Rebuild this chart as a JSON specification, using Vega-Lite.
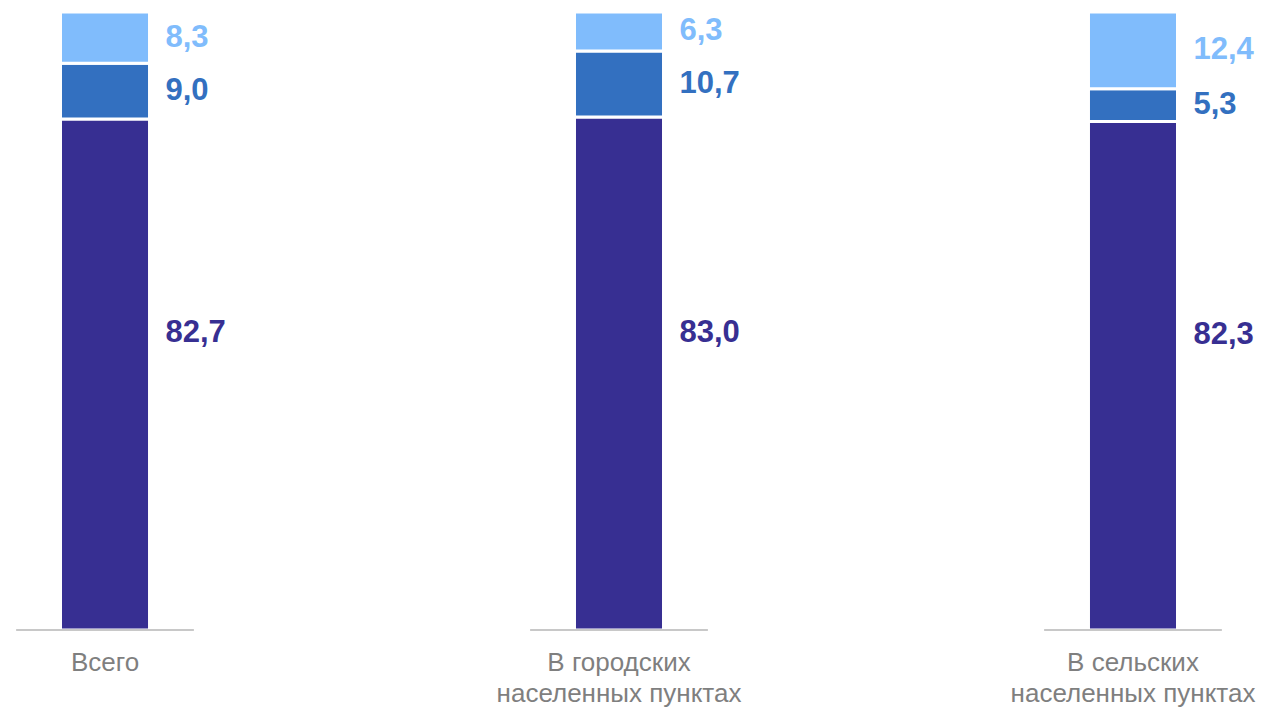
{
  "$schema": "https://vega.github.io/schema/vega-lite/v6.json",
  "width": 1238,
  "height": 618,
  "autosize": {"type": "none"},
  "padding": {"left": 0, "top": 12, "right": 28, "bottom": 77},
  "background": "white",
  "config": {
    "view": {"stroke": null},
    "font": "Liberation Sans"
  },
  "data": {
    "values": [
      {"cat": "Всего", "series": "s1", "order": 1, "v": 82.7},
      {"cat": "Всего", "series": "s2", "order": 2, "v": 9.0},
      {"cat": "Всего", "series": "s3", "order": 3, "v": 8.3},
      {"cat": "В городских|населенных пунктах", "series": "s1", "order": 1, "v": 83.0},
      {"cat": "В городских|населенных пунктах", "series": "s2", "order": 2, "v": 10.7},
      {"cat": "В городских|населенных пунктах", "series": "s3", "order": 3, "v": 6.3},
      {"cat": "В сельских|населенных пунктах", "series": "s1", "order": 1, "v": 82.3},
      {"cat": "В сельских|населенных пунктах", "series": "s2", "order": 2, "v": 5.3},
      {"cat": "В сельских|населенных пунктах", "series": "s3", "order": 3, "v": 12.4}
    ]
  },
  "transform": [
    {"stack": "v", "groupby": ["cat"], "sort": [{"field": "order"}], "as": ["v0", "v1"]},
    {"calculate": "(datum.v0 + datum.v1) / 2", "as": "mid"},
    {"calculate": "replace(format(datum.v, '.1f'), '.', ',')", "as": "lbl"}
  ],
  "encoding": {
    "x": {
      "field": "cat",
      "type": "nominal",
      "sort": null,
      "scale": {"paddingInner": 0.8268, "paddingOuter": 0.1177},
      "axis": {
        "title": null,
        "domain": false,
        "ticks": false,
        "labelAngle": 0,
        "labelFont": "Liberation Sans",
        "labelFontSize": 26,
        "labelColor": "#7F7F7F",
        "labelLineHeight": 31,
        "labelPadding": 19,
        "labelLimit": 0,
        "labelOverlap": false,
        "labelExpr": "split(datum.label, '|')"
      }
    }
  },
  "layer": [
    {
      "mark": {"type": "bar", "stroke": "white", "strokeWidth": 3},
      "encoding": {
        "y": {"field": "v1", "type": "quantitative", "scale": {"domain": [0, 100]}, "axis": null},
        "y2": {"field": "v0"},
        "color": {
          "field": "series",
          "type": "nominal",
          "scale": {"domain": ["s1", "s2", "s3"], "range": ["#372F92", "#3370C0", "#80BCFC"]},
          "legend": null
        }
      }
    },
    {
      "mark": {"type": "tick", "orient": "horizontal", "size": 177, "thickness": 2, "color": "#C8C8C8", "opacity": 1},
      "encoding": {
        "y": {"datum": 0, "type": "quantitative"}
      }
    },
    {
      "transform": [{"filter": "datum.series != 's1'"}],
      "mark": {"type": "text", "align": "left", "baseline": "middle", "dx": 16, "fontSize": 31, "fontWeight": "bold", "font": "Liberation Sans"},
      "encoding": {
        "x": {"field": "cat", "type": "nominal", "sort": null, "bandPosition": 1},
        "y": {"field": "mid", "type": "quantitative"},
        "text": {"field": "lbl"},
        "color": {"field": "series", "type": "nominal", "legend": null}
      }
    },
    {
      "transform": [{"filter": "datum.series == 's1'"}],
      "mark": {"type": "text", "align": "left", "baseline": "middle", "dx": 16, "dy": -41, "fontSize": 31, "fontWeight": "bold", "font": "Liberation Sans"},
      "encoding": {
        "x": {"field": "cat", "type": "nominal", "sort": null, "bandPosition": 1},
        "y": {"field": "mid", "type": "quantitative"},
        "text": {"field": "lbl"},
        "color": {"field": "series", "type": "nominal", "legend": null}
      }
    }
  ]
}
